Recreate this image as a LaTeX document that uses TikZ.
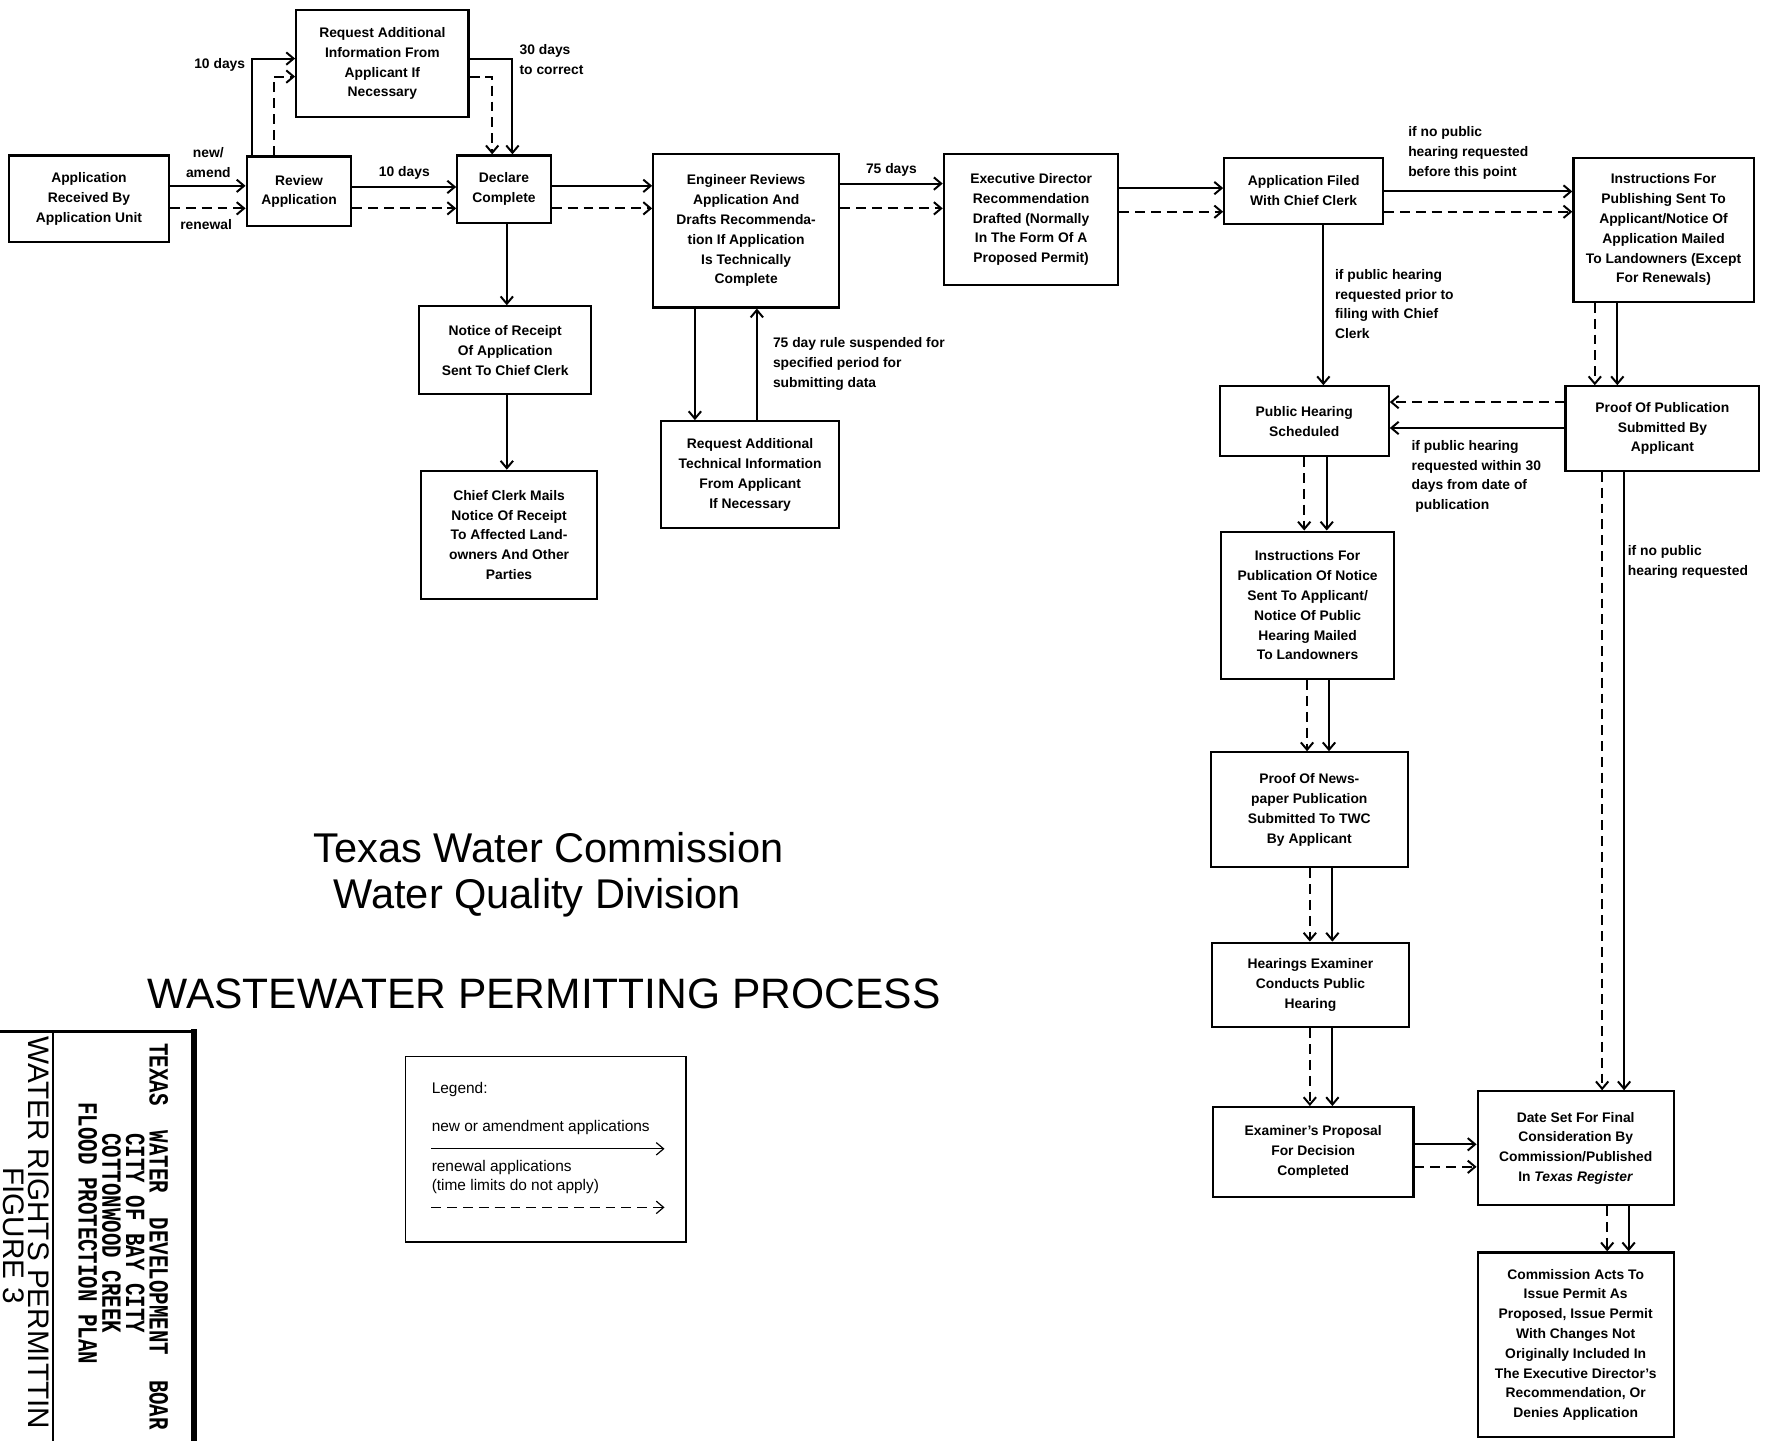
\documentclass[tikz,border=0pt]{standalone}
\usepackage{fontspec}
\setmainfont{Liberation Sans}
\newfontfamily\typefont[FakeStretch=0.75]{Liberation Mono}
\usetikzlibrary{arrows.meta}

\begin{document}
\begin{tikzpicture}[x=0.2mm,y=-0.2mm,
  >={Straight Barb[length=1.3mm,width=2.2mm]},
  every node/.style={font=\fontsize{7}{10}\selectfont\bfseries},
  proc/.style={draw,line width=1.1pt,align=center,inner sep=1pt},
  lbl/.style={align=left,inner sep=0pt,anchor=west},
  newapp/.style={->,line width=1pt},
  renew/.style={->,line width=1pt,dash pattern=on 5pt off 3pt},
  legtext/.style={font=\fontsize{7.8}{10}\selectfont,align=left,inner sep=0pt,anchor=west},
  tblock/.style={rotate=-90,inner sep=0pt,font=\typefont\bfseries\fontsize{14}{14}\selectfont},
  bigtitle/.style={font=\fontsize{21}{24}\selectfont}]

\useasboundingbox (0,0) rectangle (1568,1279);

% process boxes
\node[proc,minimum width=28.4mm,minimum height=15.4mm] (recv) at (79,176.5) {Application\\Received By\\Application Unit};
\node[proc,minimum width=18.6mm,minimum height=12.4mm] (review) at (265.5,170) {Review\\Application};
\node[proc,minimum width=16.6mm,minimum height=12mm] (declare) at (447.5,168) {Declare\\Complete};
\node[proc,minimum width=30.6mm,minimum height=19mm] (reqinfo) at (339.5,56.5) {Request Additional\\Information From\\Applicant If\\Necessary};
\node[proc,minimum width=33mm,minimum height=27.2mm] (engineer) at (662.5,205) {Engineer Reviews\\Application And\\Drafts Recommenda-\\tion If Application\\Is Technically\\Complete};
\node[proc,minimum width=31mm,minimum height=23.2mm] (execdir) at (915.5,195) {Executive Director\\Recommendation\\Drafted (Normally\\In The Form Of A\\Proposed Permit)};
\node[proc,minimum width=28.2mm,minimum height=11.8mm] (filed) at (1157.5,169.5) {Application Filed\\With Chief Clerk};
\node[proc,minimum width=32mm,minimum height=25.6mm] (instruct) at (1477,204) {Instructions For\\Publishing Sent To\\Applicant/Notice Of\\Application Mailed\\To Landowners (Except\\For Renewals)};
\node[proc,minimum width=30.6mm,minimum height=15.6mm] (receipt) at (448.5,311) {Notice of Receipt\\Of Application\\Sent To Chief Clerk};
\node[proc,minimum width=31.2mm,minimum height=22.8mm] (mails) at (452,475) {Chief Clerk Mails\\Notice Of Receipt\\To Affected Land-\\owners And Other\\Parties};
\node[proc,minimum width=31.6mm,minimum height=19mm] (techinfo) at (666,421.5) {Request Additional\\Technical Information\\From Applicant\\If Necessary};
\node[proc,minimum width=30mm,minimum height=12.4mm] (hearing) at (1158,374) {Public Hearing\\Scheduled};
\node[proc,minimum width=34.4mm,minimum height=15mm] (proofpub) at (1476,380.5) {Proof Of Publication\\Submitted By\\Applicant};
\node[proc,minimum width=30.8mm,minimum height=26.2mm] (noticepub) at (1161,537.5) {Instructions For\\Publication Of Notice\\Sent To Applicant/\\Notice Of Public\\Hearing Mailed\\To Landowners};
\node[proc,minimum width=35mm,minimum height=20.4mm] (newsproof) at (1162.5,719) {Proof Of News-\\paper Publication\\Submitted To TWC\\By Applicant};
\node[proc,minimum width=35mm,minimum height=15mm] (examiner) at (1163.5,874.5) {Hearings Examiner\\Conducts Public\\Hearing};
\node[proc,minimum width=35.6mm,minimum height=16mm] (proposal) at (1166,1023) {Examiner's Proposal\\For Decision\\Completed};
\node[proc,minimum width=34.8mm,minimum height=20.2mm] (finaldate) at (1399,1019.5) {Date Set For Final\\Consideration By\\Commission/Published\\In \textit{Texas Register}};
\node[proc,minimum width=34.8mm,minimum height=32.8mm] (commission) at (1399,1194) {Commission Acts To\\Issue Permit As\\Proposed, Issue Permit\\With Changes Not\\Originally Included In\\The Executive Director's\\Recommendation, Or\\Denies Application};

% top row
\draw[newapp] (recv.east |- 0,165) -- (review.west |- 0,165);
\draw[renew] (recv.east |- 0,185) -- (review.west |- 0,185);
\node[align=center,inner sep=0pt] (amend) at (185,144) {new/\\amend};
\node[inner sep=0pt] (renewal) at (183,199) {renewal};
\draw[newapp] (review.east |- 0,166) -- node[above] {10 days} (declare.west |- 0,166);
\draw[renew] (review.east |- 0,185) -- (declare.west |- 0,185);
\draw[newapp] (review.north -| 224,0) |- (reqinfo.west |- 0,52);
\draw[renew] (review.north -| 243,0) |- (reqinfo.west |- 0,68);
\node[inner sep=0pt,anchor=east] (tenreq) at (218,58) {10 days};
\draw[newapp] (reqinfo.east |- 0,52) -| (declare.north -| 455,0);
\draw[renew] (reqinfo.east |- 0,68) -| (declare.north -| 437,0);
\node[lbl] (correct) at (461,53) {30 days\\to correct};
\draw[newapp] (declare.east |- 0,165) -- (engineer.west |- 0,165);
\draw[renew] (declare.east |- 0,185) -- (engineer.west |- 0,185);
\draw[newapp] (engineer.east |- 0,163) -- node[above] {75 days} (execdir.west |- 0,163);
\draw[renew] (engineer.east |- 0,185) -- (execdir.west |- 0,185);
\draw[newapp] (execdir.east |- 0,167) -- (filed.west |- 0,167);
\draw[renew] (execdir.east |- 0,188) -- (filed.west |- 0,188);
\draw[newapp] (filed.east |- 0,170) -- (instruct.west |- 0,170);
\draw[renew] (filed.east |- 0,188) -- (instruct.west |- 0,188);
\node[lbl] (beforepoint) at (1250,136) {if no public\\hearing requested\\before this point};

% notice of receipt
\draw[newapp] (declare.south -| 450,0) -- (receipt.north -| 450,0);
\draw[newapp] (receipt.south -| 450,0) -- (mails.north -| 450,0);

% technical data loop
\draw[newapp] (engineer.south -| 617,0) -- (techinfo.north -| 617,0);
\draw[newapp] (techinfo.north -| 672,0) -- (engineer.south -| 672,0);
\node[lbl] (suspended) at (686,323) {75 day rule suspended for\\specified period for\\submitting data};

% hearing branch
\draw[newapp] (filed.south -| 1175,0) -- (hearing.north -| 1175,0);
\node[lbl] (prior) at (1185,270) {if public hearing\\requested prior to\\filing with Chief\\Clerk};
\draw[renew] (instruct.south -| 1416,0) -- (proofpub.north -| 1416,0);
\draw[newapp] (instruct.south -| 1436,0) -- (proofpub.north -| 1436,0);
\draw[renew] (proofpub.west |- 0,357) -- (hearing.east |- 0,357);
\draw[newapp] (proofpub.west |- 0,380) -- (hearing.east |- 0,380);
\node[lbl] (within) at (1253,423) {if public hearing\\requested within 30\\days from date of\\\ publication};
\draw[renew] (hearing.south -| 1158,0) -- (noticepub.north -| 1158,0);
\draw[newapp] (hearing.south -| 1178,0) -- (noticepub.north -| 1178,0);
\draw[renew] (noticepub.south -| 1160.5,0) -- (newsproof.north -| 1160.5,0);
\draw[newapp] (noticepub.south -| 1180,0) -- (newsproof.north -| 1180,0);
\draw[renew] (newsproof.south -| 1163,0) -- (examiner.north -| 1163,0);
\draw[newapp] (newsproof.south -| 1183,0) -- (examiner.north -| 1183,0);
\draw[renew] (examiner.south -| 1163,0) -- (proposal.north -| 1163,0);
\draw[newapp] (examiner.south -| 1183,0) -- (proposal.north -| 1183,0);
\draw[newapp] (proposal.east |- 0,1016) -- (finaldate.west |- 0,1016);
\draw[renew] (proposal.east |- 0,1036) -- (finaldate.west |- 0,1036);

% no hearing branch
\draw[renew] (proofpub.south -| 1422.5,0) -- (finaldate.north -| 1422.5,0);
\draw[newapp] (proofpub.south -| 1442,0) -- (finaldate.north -| 1442,0);
\node[lbl] (nohearing) at (1445,499) {if no public\\hearing requested};
\draw[renew] (finaldate.south -| 1427,0) -- (commission.north -| 1427,0);
\draw[newapp] (finaldate.south -| 1446,0) -- (commission.north -| 1446,0);

% titles
\node[bigtitle] (twc) at (487,753) {Texas Water Commission};
\node[bigtitle] (wqd) at (477,797) {Water Quality Division};
\node[font=\fontsize{21.5}{26}\selectfont] (process) at (483,882) {WASTEWATER PERMITTING PROCESS};

% legend
\node[draw,line width=0.9pt,minimum width=49.8mm,minimum height=33mm] (legend) at (484.5,1020.5) {};
\node[legtext] (legendhead) at (383,967) {Legend:};
\node[legtext] (newleg) at (383,1001) {new or amendment applications};
\coordinate (nstart) at (383,1020);
\coordinate (nend) at (590,1020);
\draw[newapp,line width=0.6pt] (nstart) -- (nend);
\node[legtext] (renleg) at (383,1045) {renewal applications\\(time limits do not apply)};
\coordinate (rstart) at (383,1072);
\coordinate (rend) at (590,1072);
\draw[renew,line width=0.6pt] (rstart) -- (rend);

% title block
\draw[line width=1.2pt] (0,916) -- (172,916);
\draw[line width=3pt] (172,914) -- (172,1279);
\draw[line width=0.7pt] (47,916) -- (47,1279);
\node[tblock,anchor=west] (twdb) at (141,926) {TEXAS~~WATER~~DEVELOPMENT~~BOAR};
\node[tblock] (baycity) at (120,1095) {CITY OF BAY CITY};
\node[tblock] (creek) at (99,1095) {COTTONWOOD CREEK};
\node[tblock] (flood) at (78,1095) {FLOOD PROTECTION PLAN};
\node[rotate=-90,inner sep=0pt,anchor=west,font=\fontsize{15}{15}\selectfont] (rights) at (34,920) {WATER RIGHTS PERMITTIN};
\node[rotate=-90,inner sep=0pt,font=\fontsize{15}{15}\selectfont] (figure) at (12,1097) {FIGURE 3};

\end{tikzpicture}
\end{document}
